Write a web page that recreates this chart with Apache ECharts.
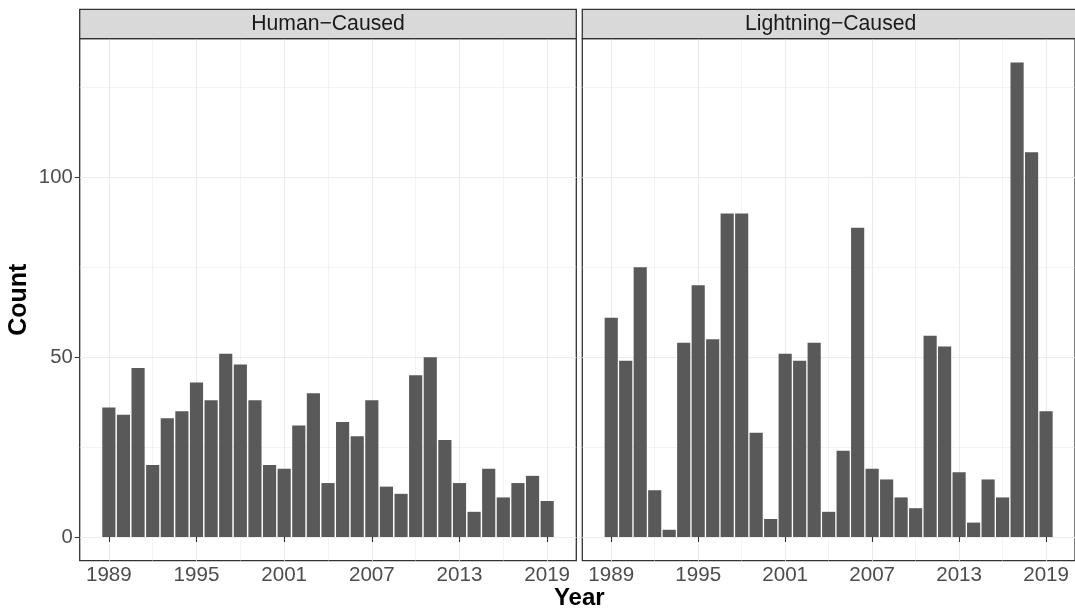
<!DOCTYPE html>
<html><head><meta charset="utf-8">
<script src="https://cdn.jsdelivr.net/npm/echarts@6/dist/echarts.min.js"></script>
<style>html,body{margin:0;padding:0;background:#fff}#c{width:1075px;height:609px}</style>
</head><body><div id="c"></div>
<script>
// ---- data ----
const years = [1989,1990,1991,1992,1993,1994,1995,1996,1997,1998,1999,2000,2001,2002,2003,2004,2005,2006,2007,2008,2009,2010,2011,2012,2013,2014,2015,2016,2017,2018,2019];
const humanCaused = [36,34,47,20,33,35,43,38,51,48,38,20,19,31,40,15,32,28,38,14,12,45,50,27,15,7,19,11,15,17,10];
const lightningCaused = [61,49,75,13,2,54,70,55,90,90,29,5,51,49,54,7,24,86,19,16,11,8,56,53,18,4,16,11,132,107,35];
const panelTitles = ['Human\u2212Caused', 'Lightning\u2212Caused'];
const xMajorTicks = [1989,1995,2001,2007,2013,2019];
const xMinorTicks = [1992,1998,2004,2010,2016];
const yMajorTicks = [0,50,100];
const yMinorTicks = [25,75,125];
const xTitle = 'Year';
const yTitle = 'Count';

// ---- layout ----
const FONT = '"Liberation Sans", Arial, sans-serif';
const panelTop = 38.7, panelH = 522, panelW = 496.6;
const panelLefts = [79.7, 582.3];
const stripH = 29.4;

const yDataMax = Math.max(...humanCaused, ...lightningCaused);
const yMin = -0.05 * yDataMax, yMax = 1.05 * yDataMax;
const barSpanLo = years[0] - 0.45, barSpanHi = years[years.length - 1] + 0.45;
const xPad = 0.05 * (barSpanHi - barSpanLo);
const xMin = barSpanLo - xPad, xMax = barSpanHi + xPad;
const barWidth = panelW / (xMax - xMin) * 0.9;

const seriesData = [humanCaused, lightningCaused];

const grids = [], xAxes = [], yAxes = [], series = [], graphics = [];
panelLefts.forEach((left, g) => {
  grids.push({left: left, top: panelTop, width: panelW, height: panelH, show: true,
    borderColor: '#333333', borderWidth: 1.3, backgroundColor: 'transparent', containLabel: false});
  // major x
  xAxes.push({gridIndex: g, type: 'value', min: xMin, max: xMax, position: 'bottom',
    axisLine: {show: false},
    axisTick: {show: true, customValues: xMajorTicks, length: 5, lineStyle: {color: '#333333', width: 1.1}},
    axisLabel: {show: true, customValues: xMajorTicks, color: '#4D4D4D', fontSize: 20.6, fontFamily: FONT, margin: 4,
      formatter: v => String(v)},
    splitLine: {show: true, lineStyle: {color: '#EBEBEB', width: 1.1}}});
  // minor x
  xAxes.push({gridIndex: g, type: 'value', min: xMin, max: xMax, position: 'bottom',
    axisLine: {show: false},
    axisTick: {show: false, customValues: xMinorTicks},
    axisLabel: {show: false, customValues: xMinorTicks},
    splitLine: {show: true, lineStyle: {color: '#EBEBEB', width: 0.6}}});
  // major y
  yAxes.push({gridIndex: g, type: 'value', min: yMin, max: yMax, position: 'left',
    axisLine: {show: false},
    axisTick: {show: g === 0, customValues: yMajorTicks, length: 5, lineStyle: {color: '#333333', width: 1.1}},
    axisLabel: {show: g === 0, customValues: yMajorTicks, color: '#4D4D4D', fontSize: 20.3, fontFamily: FONT, margin: 7,
      formatter: v => String(v)},
    splitLine: {show: true, lineStyle: {color: '#EBEBEB', width: 1.1}}});
  // minor y
  yAxes.push({gridIndex: g, type: 'value', min: yMin, max: yMax, position: 'left',
    axisLine: {show: false},
    axisTick: {show: false, customValues: yMinorTicks},
    axisLabel: {show: false, customValues: yMinorTicks},
    splitLine: {show: true, lineStyle: {color: '#EBEBEB', width: 0.6}}});

  series.push({type: 'bar', name: panelTitles[g], xAxisIndex: 2 * g, yAxisIndex: 2 * g,
    data: years.map((y, i) => [y, seriesData[g][i]]),
    barWidth: barWidth, itemStyle: {color: '#595959'}, silent: true, animation: false});

  graphics.push({type: 'rect', shape: {x: left, y: panelTop - stripH, width: panelW, height: stripH},
    style: {fill: '#D9D9D9', stroke: '#333333', lineWidth: 1.3}, z: 10});
  graphics.push({type: 'text', x: left + panelW / 2, y: panelTop - stripH / 2, z: 11,
    style: {text: panelTitles[g], fill: '#1A1A1A', font: '21.2px ' + FONT, align: 'center', verticalAlign: 'middle',
      textAlign: 'center', textVerticalAlign: 'middle'}});
});

graphics.push({type: 'text', x: 19, y: panelTop + panelH / 2, rotation: Math.PI / 2, z: 11,
  style: {text: yTitle, fill: '#000000', font: 'bold 25px ' + FONT, align: 'center', verticalAlign: 'middle',
    textAlign: 'center', textVerticalAlign: 'middle'}});
graphics.push({type: 'text', x: (panelLefts[0] + panelLefts[1] + panelW) / 2, y: 598, z: 11,
  style: {text: xTitle, fill: '#000000', font: 'bold 24px ' + FONT, align: 'center', verticalAlign: 'middle',
    textAlign: 'center', textVerticalAlign: 'middle'}});

const chart = echarts.init(document.getElementById('c'), null, {renderer: 'canvas'});
chart.setOption({
  animation: false,
  backgroundColor: '#ffffff',
  textStyle: {fontFamily: FONT},
  grid: grids, xAxis: xAxes, yAxis: yAxes, series: series, graphic: graphics
});
</script>
</body></html>
